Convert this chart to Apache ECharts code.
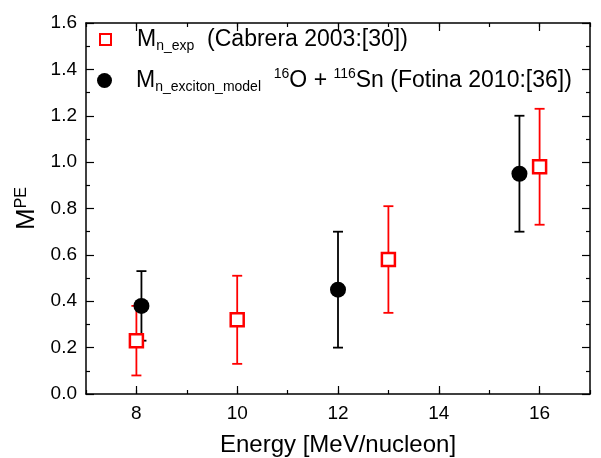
<!DOCTYPE html>
<html>
<head>
<meta charset="utf-8">
<script src="https://cdn.jsdelivr.net/npm/echarts@6/dist/echarts.min.js"></script>
<style>
  html, body { margin: 0; padding: 0; background: #fff; }
  #chart { width: 601px; height: 458px; }
</style>
</head>
<body>
<div id="chart"></div>
<script>
// Cabrera 2003 measured points: [energy, value, low, high]
var expEnergy = [8, 10, 13, 16];
var expValue = [0.23, 0.32, 0.58, 0.98];
var expLow = [0.08, 0.13, 0.35, 0.73];
var expHigh = [0.38, 0.51, 0.81, 1.23];

// Fotina 2010 exciton model points
var modEnergy = [8.1, 12, 15.6];
var modValue = [0.38, 0.45, 0.95];
var modLow = [0.23, 0.20, 0.70];
var modHigh = [0.53, 0.70, 1.20];

var xTicks = [8, 10, 12, 14, 16];

var FONT = 'Liberation Sans, Arial, sans-serif';

function pts(xs, ys) {
	var out = [];
	for (var i = 0; i < xs.length; i++) out.push([xs[i], ys[i]]);
	return out;
}
function bars(xs, lo, hi) {
	var out = [];
	for (var i = 0; i < xs.length; i++) out.push([xs[i], lo[i], hi[i]]);
	return out;
}

function errorBar(color) {
	return function(params, api) {
		var top = api.coord([api.value(0), api.value(2)]);
		var bot = api.coord([api.value(0), api.value(1)]);
		var w = 5;
		var st = { stroke: color, lineWidth: 1.8 };
		return {
			type: 'group',
			children: [
				{ type: 'line', shape: { x1: top[0], y1: top[1], x2: bot[0], y2: bot[1] }, style: st },
				{ type: 'line', shape: { x1: top[0] - w, y1: top[1], x2: top[0] + w, y2: top[1] }, style: st },
				{ type: 'line', shape: { x1: bot[0] - w, y1: bot[1], x2: bot[0] + w, y2: bot[1] }, style: st }
			]
		};
	};
}

var axisLine = { lineStyle: { color: '#000', width: 1.5 } };
var tickIn = { inside: true, length: 8, lineStyle: { color: '#000', width: 1.2 } };
var minorIn = { show: true, splitNumber: 2, length: 4, lineStyle: { color: '#000', width: 1.2 } };

var rich = {
	m: { fontSize: 23, fontFamily: FONT, color: '#000' },
	t: { fontSize: 23, fontFamily: FONT, color: '#000' },
	sub: { fontSize: 14, fontFamily: FONT, color: '#000', verticalAlign: 'bottom', padding: [13, 0, 0, 0] },
	sup: { fontSize: 14, fontFamily: FONT, color: '#000', verticalAlign: 'top', padding: [0, 0, 9, 0] }
};
var nameRich = {
	m: { fontSize: 26, fontFamily: FONT, color: '#000' },
	sup: { fontSize: 16, fontFamily: FONT, color: '#000', verticalAlign: 'top', padding: [0, 0, 11, 0] }
};

function legendText(name) {
	if (name === 'exp') return '{m|M}{sub|n_exp}{t|  (Cabrera 2003:[30])}';
	return '{m|M}{sub|n_exciton_model}{t|  }{sup|16}{t|O + }{sup|116}{t|Sn (Fotina 2010:[36])}';
}

// minor-length ticks at every unit, long ticks only at labelled values
function xAxisPair(pos, labels) {
	return [{
		type: 'value',
		position: pos,
		min: 7, max: 17, interval: 1,
		name: labels ? 'Energy [MeV/nucleon]' : '',
		nameLocation: 'middle',
		nameGap: 39,
		nameTextStyle: { fontSize: 24, fontFamily: FONT, color: '#000' },
		axisLine: axisLine,
		axisTick: { inside: true, length: 4, lineStyle: { color: '#000', width: 1.2 } },
		axisLabel: {
			show: labels,
			customValues: xTicks,
			fontSize: 19, fontFamily: FONT, color: '#000', margin: 10
		},
		splitLine: { show: false }
	}, {
		type: 'value',
		position: pos,
		min: 7, max: 17, interval: 1,
		axisLine: { show: false },
		axisTick: { inside: true, length: 8, customValues: xTicks, lineStyle: { color: '#000', width: 1.2 } },
		axisLabel: { show: false },
		splitLine: { show: false }
	}];
}

var chart = echarts.init(document.getElementById('chart'));

var options = {
	animation: false,
	backgroundColor: '#fff',
	grid: { left: 86, right: 11, top: 23, bottom: 64, outerBoundsMode: 'none', containLabel: false },
	legend: [{
		left: 99,
		top: 28,
		padding: 0,
		itemWidth: 11,
		itemHeight: 11,
		data: ['exp'],
		formatter: legendText,
		textStyle: { rich: rich, padding: [0, 0, 0, 21] }
	}, {
		left: 97,
		top: 67,
		padding: 0,
		itemWidth: 15,
		itemHeight: 15,
		data: ['model'],
		formatter: legendText,
		textStyle: { rich: rich, padding: [0, 0, 0, 19] }
	}],
	xAxis: xAxisPair('bottom', true).concat(xAxisPair('top', false)),
	yAxis: [{
		type: 'value',
		min: 0, max: 1.6, interval: 0.2,
		name: '{m|M}{sup|PE}',
		nameLocation: 'middle',
		nameGap: 44,
		nameTextStyle: { rich: nameRich },
		axisLine: axisLine,
		axisTick: tickIn,
		minorTick: minorIn,
		axisLabel: {
			fontSize: 19, fontFamily: FONT, color: '#000', margin: 9,
			formatter: function(v) { return v.toFixed(1); }
		},
		splitLine: { show: false }
	}, {
		type: 'value',
		position: 'right',
		min: 0, max: 1.6, interval: 0.2,
		axisLine: axisLine,
		axisTick: tickIn,
		minorTick: minorIn,
		axisLabel: { show: false },
		splitLine: { show: false }
	}],
	series: [{
		type: 'custom',
		name: 'expErr',
		renderItem: errorBar('#ff0000'),
		data: bars(expEnergy, expLow, expHigh),
		encode: { x: 0, y: [1, 2] },
		z: 2
	}, {
		type: 'custom',
		name: 'modErr',
		renderItem: errorBar('#000000'),
		data: bars(modEnergy, modLow, modHigh),
		encode: { x: 0, y: [1, 2] },
		z: 2
	}, {
		type: 'scatter',
		name: 'exp',
		symbol: 'rect',
		symbolSize: 13,
		itemStyle: { color: '#fff', borderColor: '#ff0000', borderWidth: 2.5, opacity: 1 },
		data: pts(expEnergy, expValue),
		z: 3
	}, {
		type: 'scatter',
		name: 'model',
		symbol: 'circle',
		symbolSize: 16,
		itemStyle: { color: '#000', opacity: 1 },
		data: pts(modEnergy, modValue),
		z: 4
	}]
};

chart.setOption(options);
</script>
</body>
</html>
